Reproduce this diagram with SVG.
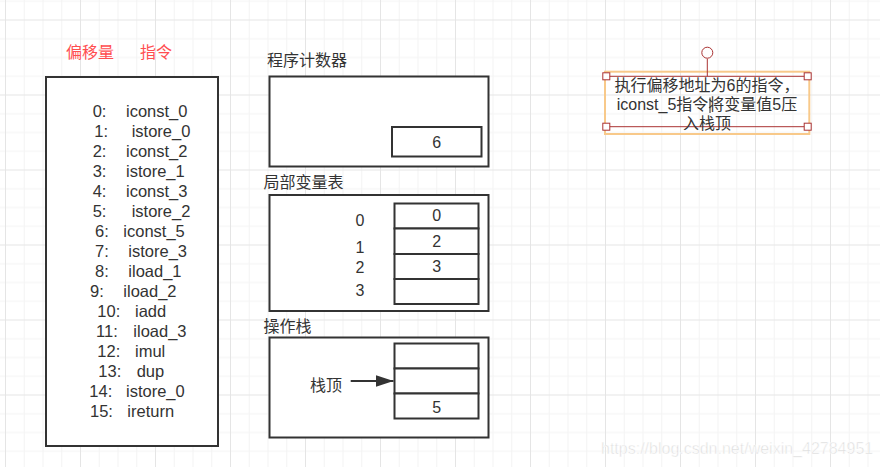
<svg xmlns="http://www.w3.org/2000/svg" width="880" height="467" viewBox="0 0 880 467">
  <style>
    .t { font-family: "Liberation Sans", "Noto Sans CJK SC", sans-serif; font-size: 16px; fill: #333; }
    .code { font-family: "Liberation Sans", "Noto Sans CJK SC", sans-serif; font-size: 16.5px; fill: #333; }
    .red { font-family: "Noto Sans CJK SC", sans-serif; font-size: 16px; fill: #ff4d4f; }
    .mid { text-anchor: middle; }
    .box { fill: #fff; stroke: #333; stroke-width: 2; }
    .cell { fill: #fff; stroke: #333; stroke-width: 2; }
    .handle { fill: #fff; stroke: #a33; stroke-width: 1; }
    .wm { font-family: "Liberation Sans", sans-serif; font-size: 16px; fill: #dcdcdc; }
  </style>
  <defs>
    <pattern id="grid" x="5" y="19.5" width="75" height="75" patternUnits="userSpaceOnUse">
      <path d="M19.25 0V75M38 0V75M56.75 0V75M0 19.25H75M0 38H75M0 56.75H75" stroke="#f3f3f3" stroke-width="1" fill="none"/>
      <path d="M0.5 0V75M0 0.5H75" stroke="#e5e5e5" stroke-width="1" fill="none"/>
    </pattern>
    <marker id="arr" markerWidth="18" markerHeight="12" refX="18" refY="6" orient="auto" markerUnits="userSpaceOnUse">
      <path d="M0 0L18 6L0 12Z" fill="#333"/>
    </marker>
  </defs>

  <rect x="0" y="0" width="880" height="467" fill="#fff"/>
  <rect x="0" y="0" width="880" height="467" fill="url(#grid)"/>

  <!-- headers -->
  <g id="header">
    <text class="red" x="66" y="58">偏移量</text>
    <text class="red" x="140" y="58">指令</text>
  </g>

  <!-- bytecode listing -->
  <g id="bytecode">
    <rect class="box" x="46" y="77" width="172" height="369"/>
    <text class="code">
      <tspan x="92.7" y="117.3">0:</tspan><tspan x="126" y="117.3">iconst_0</tspan>
      <tspan x="94.3" y="137.3">1:</tspan><tspan x="131.7" y="137.3">istore_0</tspan>
      <tspan x="92.7" y="157.2">2:</tspan><tspan x="126" y="157.2">iconst_2</tspan>
      <tspan x="92.7" y="177.2">3:</tspan><tspan x="126" y="177.2">istore_1</tspan>
      <tspan x="92.7" y="197.1">4:</tspan><tspan x="126" y="197.1">iconst_3</tspan>
      <tspan x="92.7" y="217.1">5:</tspan><tspan x="131.7" y="217.1">istore_2</tspan>
      <tspan x="95" y="237">6:</tspan><tspan x="123.3" y="237">iconst_5</tspan>
      <tspan x="95" y="257">7:</tspan><tspan x="128.3" y="257">istore_3</tspan>
      <tspan x="95" y="276.9">8:</tspan><tspan x="128.3" y="276.9">iload_1</tspan>
      <tspan x="90" y="296.9">9:</tspan><tspan x="123.3" y="296.9">iload_2</tspan>
      <tspan x="97.3" y="316.8">10:</tspan><tspan x="135" y="316.8">iadd</tspan>
      <tspan x="96" y="336.8">11:</tspan><tspan x="133.3" y="336.8">iload_3</tspan>
      <tspan x="97.3" y="356.7">12:</tspan><tspan x="135" y="356.7">imul</tspan>
      <tspan x="98.3" y="376.7">13:</tspan><tspan x="136.7" y="376.7">dup</tspan>
      <tspan x="89.3" y="396.6">14:</tspan><tspan x="126" y="396.6">istore_0</tspan>
      <tspan x="90" y="416.6">15:</tspan><tspan x="127.3" y="416.6">ireturn</tspan>
    </text>
  </g>

  <!-- program counter -->
  <g id="pc">
    <text class="t" x="267" y="66">程序计数器</text>
    <rect class="box" x="269.5" y="76.5" width="219" height="90"/>
    <rect class="cell" x="392" y="127" width="89.5" height="29.5"/>
    <text class="t mid" x="436.7" y="147.5">6</text>
  </g>

  <!-- local variable table -->
  <g id="locals">
    <text class="t" x="263.5" y="188">局部变量表</text>
    <rect class="box" x="269.5" y="195" width="219" height="116"/>
    <rect class="cell" x="394.5" y="203.5" width="84" height="25"/>
    <rect class="cell" x="394.5" y="228.5" width="84" height="25.5"/>
    <rect class="cell" x="394.5" y="254" width="84" height="25"/>
    <rect class="cell" x="394.5" y="279" width="84" height="25"/>
    <text class="t mid" x="436.7" y="221">0</text>
    <text class="t mid" x="436.7" y="246.5">2</text>
    <text class="t mid" x="436.7" y="271.5">3</text>
    <text class="t mid" x="360" y="226">0</text>
    <text class="t mid" x="360" y="252.5">1</text>
    <text class="t mid" x="360" y="272.5">2</text>
    <text class="t mid" x="360" y="295.5">3</text>
  </g>

  <!-- operand stack -->
  <g id="stack">
    <text class="t" x="263.5" y="332">操作栈</text>
    <rect class="box" x="269.5" y="337.5" width="219" height="100"/>
    <rect class="cell" x="394.5" y="343.5" width="84" height="25"/>
    <rect class="cell" x="394.5" y="368.5" width="84" height="25"/>
    <rect class="cell" x="394.5" y="393.5" width="84" height="25"/>
    <text class="t mid" x="436.7" y="412.5">5</text>
    <text class="t" x="310" y="391">栈顶</text>
  </g>

  <!-- connectors -->
  <g id="connectors">
    <line x1="350.7" y1="381" x2="393.5" y2="381" stroke="#333" stroke-width="2" marker-end="url(#arr)"/>
  </g>

  <!-- annotation (selected text box) -->
  <g id="note">
    <rect x="605" y="71.7" width="204.3" height="62.3" fill="none" stroke="#f8c98a" stroke-width="2"/>
    <line x1="606.3" y1="76.3" x2="807.7" y2="76.3" stroke="#a33" stroke-width="1"/>
    <line x1="606.3" y1="126.7" x2="807.7" y2="126.7" stroke="#a33" stroke-width="1"/>
    <line x1="707.3" y1="58.7" x2="707.3" y2="76.3" stroke="#a33" stroke-width="1"/>
    <circle cx="707.3" cy="52.7" r="5.5" fill="#fff" stroke="#a33" stroke-width="1"/>
    <text class="t mid" x="707" y="91">执行偏移地址为6的指令，</text>
    <text class="t mid" x="707" y="110">iconst_5指令将变量值5压</text>
    <text class="t mid" x="707" y="128.5">入栈顶</text>
    <line x1="710" y1="97.5" x2="710" y2="113" stroke="#222" stroke-width="1"/>
    <rect class="handle" x="602.8" y="72.8" width="7" height="7"/>
    <rect class="handle" x="804.2" y="72.8" width="7" height="7"/>
    <rect class="handle" x="602.8" y="123.2" width="7" height="7"/>
    <rect class="handle" x="804.2" y="123.2" width="7" height="7"/>
  </g>

  <text class="wm" x="601" y="454.3" stroke="#fff" stroke-width="0.5">https://blog.csdn.net/weixin_42784951</text>
</svg>
